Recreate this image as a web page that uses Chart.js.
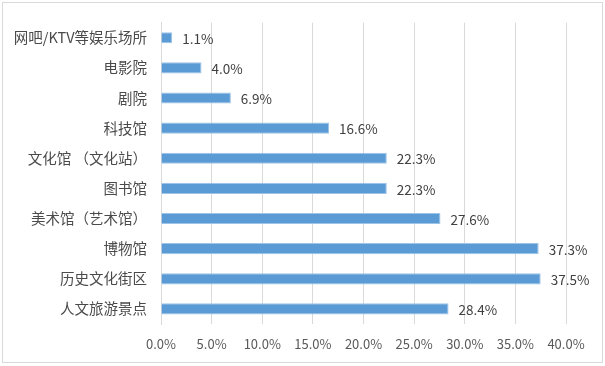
<!DOCTYPE html>
<html>
<head>
<meta charset="utf-8">
<script src="https://cdn.jsdelivr.net/npm/chart.js@4.4.1/dist/chart.umd.min.js"></script>
<style>
  html, body { margin: 0; padding: 0; background: #fff; }
  #wrap { width: 605px; height: 366px; position: relative; }
</style>
</head>
<body>
<div id="wrap"><canvas id="chart" width="605" height="366"></canvas></div>
<script>
// categories top to bottom, as in the picture
const places = ["网吧/KTV等娱乐场所","电影院","剧院","科技馆","文化馆 （文化站）","图书馆","美术馆（艺术馆）","博物馆","历史文化街区","人文旅游景点"]
const shares = [1.1, 4.0, 6.9, 16.6, 22.3, 22.3, 27.6, 37.3, 37.5, 28.4]
const xTicks = [0, 5, 10, 15, 20, 25, 30, 35, 40]

const font = "'Noto Sans CJK SC', 'Noto Sans', sans-serif"

// value labels at the end of each bar
const barLabels = {
  id: 'barLabels',
  afterDatasetsDraw(chart) {
    const ctx = chart.ctx
    const meta = chart.getDatasetMeta(0)
    ctx.save()
    ctx.font = "13.5px " + font
    ctx.fillStyle = "#404040"
    ctx.textAlign = "left"
    ctx.textBaseline = "middle"
    meta.data.forEach((bar, i) => {
      ctx.fillText(shares[i].toFixed(1) + "%", bar.x + 10, bar.y + 1)
    })
    ctx.restore()
  }
}

// light frame round the whole chart
const frame = {
  id: 'frame',
  beforeDraw(chart) {
    const ctx = chart.ctx
    ctx.save()
    ctx.fillStyle = "#fff"
    ctx.fillRect(0, 0, chart.width, chart.height)
    ctx.strokeStyle = "#d9d9d9"
    ctx.lineWidth = 1
    ctx.strokeRect(2.5, 2.5, 600, 360)
    ctx.restore()
  }
}

new Chart(document.getElementById("chart"), {
  type: "bar",
  plugins: [frame, barLabels],
  data: {
    labels: places,
    datasets: [{
      data: shares,
      backgroundColor: "#5b9bd5",
      borderColor: "#9dc3e6",
      borderWidth: 1,
      barPercentage: 0.37,
      categoryPercentage: 1
    }]
  },
  options: {
    indexAxis: "y",
    responsive: false,
    animation: false,
    layout: { padding: { top: 21, right: 39, left: 0, bottom: 0 } },
    plugins: { legend: { display: false }, tooltip: { enabled: false } },
    scales: {
      x: {
        min: 0,
        max: 40,
        afterBuildTicks: (scale) => { scale.ticks = xTicks.map(v => ({ value: v })) },
        afterFit: (scale) => { scale.height = 42 },
        grid: { color: "#d9d9d9", drawTicks: false },
        border: { display: false },
        ticks: {
          padding: 12,
          color: "#595959",
          font: { family: font, size: 13 },
          callback: (v) => Number(v).toFixed(1) + "%"
        }
      },
      y: {
        afterFit: (scale) => { scale.width = 161 },
        grid: { display: false, drawTicks: false },
        border: { display: true, color: "#d9d9d9" },
        ticks: {
          padding: 14,
          color: "#4a4a4a",
          font: { family: font, size: 14.5 }
        }
      }
    }
  }
})
</script>
</body>
</html>
